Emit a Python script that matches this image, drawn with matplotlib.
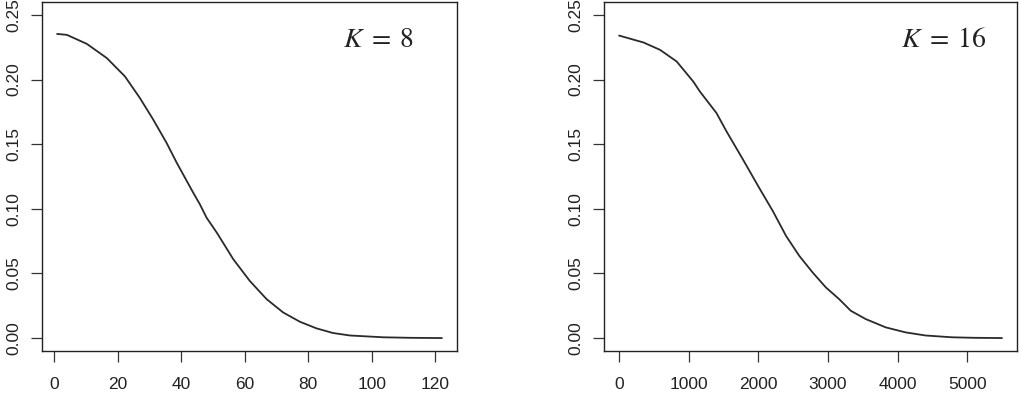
import matplotlib
matplotlib.use("Agg")
import matplotlib.pyplot as plt
import numpy as np

plt.rcParams["font.family"] = ["Liberation Sans", "DejaVu Sans"]
plt.rcParams["mathtext.fontset"] = "stix"

# K = 8 curve
x_k8 = [1, 4, 10.3, 16.6, 22.3, 27, 31.2, 35.4, 38.6, 43.8, 45.9, 48, 51.2,
        56.4, 61.6, 66.9, 72.1, 77.4, 82.6, 87.8, 93.1, 103.6, 112, 122]
y_k8 = [0.2353, 0.2346, 0.2276, 0.2166, 0.2024, 0.1857, 0.169, 0.151, 0.1356,
        0.1124, 0.1034, 0.0931, 0.0816, 0.061, 0.0442, 0.0301, 0.0198, 0.0126,
        0.0075, 0.0039, 0.0020, 0.0006, 0.0002, 0.0]

# K = 16 curve
x_k16 = [1, 348, 586, 825, 1063, 1158, 1397, 1540, 1778, 2016, 2207, 2398,
         2588, 2779, 2970, 3160, 3327, 3541, 3827, 4113, 4399, 4780, 5100, 5495]
y_k16 = [0.2340, 0.2287, 0.2230, 0.2140, 0.1985, 0.1908, 0.1741, 0.160,
         0.1381, 0.1157, 0.0982, 0.0789, 0.0635, 0.0507, 0.0391, 0.0301,
         0.0211, 0.0147, 0.0083, 0.0044, 0.0020, 0.0006, 0.0002, 0.0]

panels = [
    (x_k8, y_k8, np.arange(0, 121, 20), r"$K\;=\;8$", 102,
     [0.0411, 0.1159, 0.4065, 0.879]),
    (x_k16, y_k16, np.arange(0, 5001, 1000), r"$K\;=\;16$", 4668,
     [0.5916, 0.1159, 0.4045, 0.879]),
]
yticks = np.arange(0, 0.2501, 0.05)

fig = plt.figure(figsize=(10.21, 3.97), dpi=100)
for xs, ys, xt, label, lx, rect in panels:
    ax = fig.add_axes(rect)
    ax.plot(xs, ys, color="#2a2a2a", lw=1.3)
    # R-style 4% padding
    lo, hi = min(xs), max(xs)
    r = hi - lo
    ax.set_xlim(lo - 0.04 * r, hi + 0.04 * r)
    ax.set_ylim(-0.01, 0.26)
    ax.set_xticks(xt)
    ax.set_xticklabels([str(v) for v in xt])
    ax.set_yticks(yticks)
    ax.set_yticklabels(["%.2f" % v for v in yticks], rotation=90, va="center")
    ax.tick_params(axis="x", direction="out", length=8, width=0.9,
                   labelsize=12.5, pad=11, color="#333333", labelcolor="#222222")
    ax.tick_params(axis="y", direction="out", length=8, width=0.9,
                   labelsize=12.5, pad=7, color="#333333", labelcolor="#222222")
    for s in ax.spines.values():
        s.set_linewidth(1.0)
        s.set_color("#222222")
    ax.text(lx, 0.2307, label, ha="center", va="center", fontsize=20,
            color="#222222")

fig.savefig("out.png", dpi=100)
